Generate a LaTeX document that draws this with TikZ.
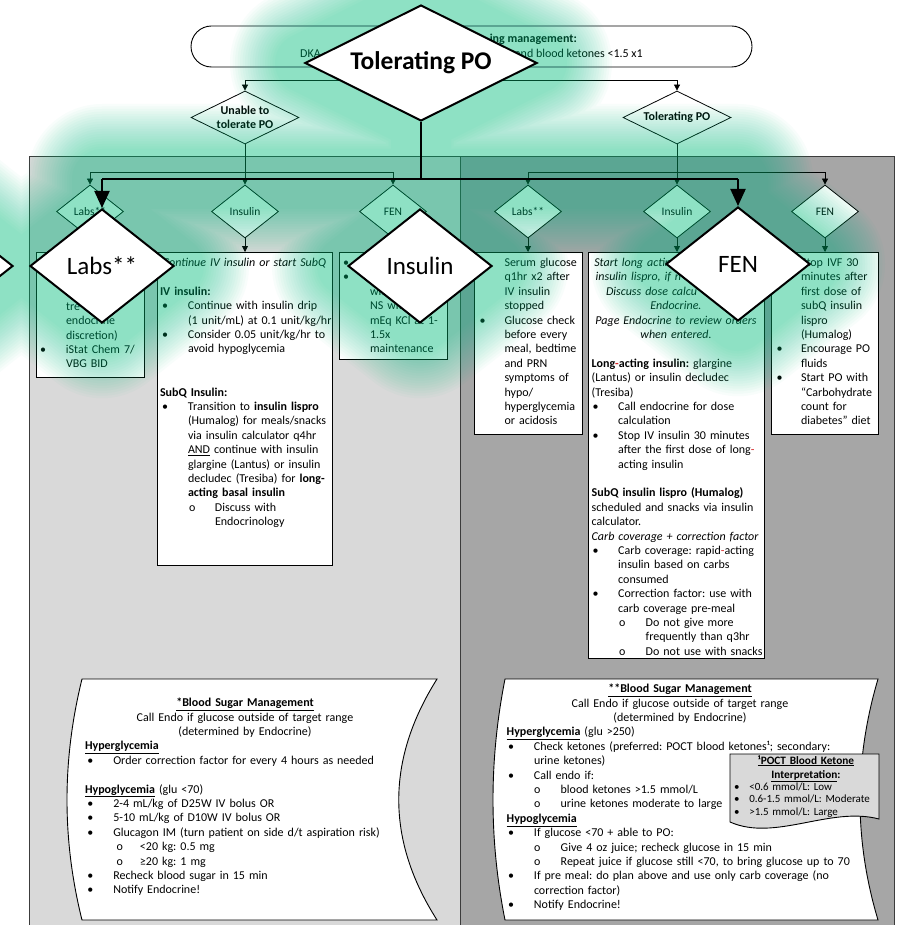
\documentclass[tikz,border=0pt]{standalone}
\usepackage{fontspec}
\setmainfont{Carlito}
\usetikzlibrary{arrows.meta,shapes.geometric}
\definecolor{lpanel}{RGB}{217,217,217}
\definecolor{dpanel}{RGB}{166,166,166}
\definecolor{pborder}{RGB}{60,60,60}
\definecolor{glowc}{RGB}{0,198,130}
\definecolor{hyph}{RGB}{215,40,40}
\newcommand\Bu[2]{\makebox[#2pt][l]{\hspace*{#1pt}\textbullet}}
\newcommand\Ci[2]{\makebox[#2pt][l]{\hspace*{#1pt}o}}
\newcommand\Ii[1]{\hspace*{#1pt}}
\newcommand\rh{\textcolor{hyph}{-}}
\tikzset{
  tx/.style={anchor=base west, inner sep=0pt, outer sep=0pt, text width=#1, align=left, font=\fontsize{12}{14.4}\selectfont},
  tx/.default=420pt,
  tc/.style={anchor=base, inner sep=0pt, outer sep=0pt, text width=#1, align=center, font=\fontsize{12}{14.4}\selectfont},
  boxn/.style={draw=black, fill=white, line width=0.9pt, inner sep=0pt, anchor=north west},
  sdm/.style={diamond, draw=black, fill=white, line width=0.8pt, inner sep=-3pt},
  pdm/.style={sdm, minimum width=67pt, minimum height=53pt, shape aspect=1.26, font=\fontsize{11.5}{13}\selectfont},
  tdm/.style={sdm, minimum width=108pt, minimum height=53pt, shape aspect=2.04, font=\fontsize{12}{14.4}\selectfont\bfseries, align=center},
  bdm/.style={diamond, draw=black, fill=white, line width=2pt, inner sep=0pt, minimum width=144pt, minimum height=114pt, shape aspect=1.26, font=\fontsize{25}{30}\selectfont},
  conn/.style={line width=0.8pt, draw=black},
  arr/.style={conn, -{Triangle[length=6pt,width=6pt]}},
  bigl/.style={line width=2pt, draw=black},
  bigarr/.style={bigl, -{Triangle[length=17pt,width=15pt]}},
}
\begin{document}
\frenchspacing
\begin{tikzpicture}[x=1pt,y=-1pt]
\useasboundingbox (0,0) rectangle (897,925);
\clip (0,0) rectangle (897,925);
\fill[white] (0,0) rectangle (897,925);
% panels
\fill[lpanel] (29,157) rectangle (460,935);
\fill[dpanel] (460,157) rectangle (894,935);
\draw[pborder, line width=1pt] (29,935) -- (29,157) -- (894,157) -- (894,935);
\draw[pborder, line width=1pt] (460,157) -- (460,935);
% top pill
\node[draw=black, fill=white, line width=0.9pt, rounded corners=20.5pt, minimum width=561pt, minimum height=41pt, inner sep=0pt] (pill) at (471.5,46.5) {};
\node[anchor=base west, inner sep=0pt, font=\fontsize{12}{14.4}\selectfont] (p1) at (300,57.5) {DKA};
\node[anchor=base east, inner sep=0pt, font=\fontsize{12}{14.4}\selectfont\bfseries] (p2) at (577,43) {ing management:};
\node[anchor=base east, inner sep=0pt, font=\fontsize{12}{14.4}\selectfont] (p3) at (643,57.5) {and blood ketones <1.5 x1};
% top small diamonds
\node[tdm] (unable) at (245,117.5) {Unable to\\tolerate PO};
\node[tdm] (tolS) at (677,117.5) {Tolerating PO};
\coordinate (jt) at (471.5,80);
\draw[conn] (pill.south) -- (jt);
\draw[arr] (jt) -| (unable.north);
\draw[arr] (jt) -| (tolS.north);
% panel diamonds
\node[pdm] (labsL) at (90,211.5) {Labs**};
\node[pdm] (insL) at (245,211.5) {Insulin};
\node[pdm] (fenL) at (393,211.5) {FEN};
\node[pdm] (labsR) at (528,211.5) {Labs**};
\node[pdm] (insR) at (677,211.5) {Insulin};
\node[pdm] (fenR) at (825,211.5) {FEN};
\coordinate (jl) at (245,172);
\coordinate (jr) at (677,172);
\draw[conn] (unable.south) -- (jl);
\draw[arr] (jl) -| (labsL.north);
\draw[arr] (jl) -- (insL.north);
\draw[arr] (jl) -| (fenL.north);
\draw[conn] (tolS.south) -- (jr);
\draw[arr] (jr) -| (labsR.north);
\draw[arr] (jr) -- (insR.north);
\draw[arr] (jr) -| (fenR.north);
% boxes
\node[boxn, minimum width=108pt, minimum height=125pt] (labsLbox) at (36,252) {};
\node[boxn, minimum width=175pt, minimum height=313pt] (insLbox) at (157,252) {};
\node[boxn, minimum width=108pt, minimum height=107pt] (fenLbox) at (339,252) {};
\node[boxn, minimum width=108pt, minimum height=182pt] (labsRbox) at (474,252) {};
\node[boxn, minimum width=176pt, minimum height=406pt] (insRbox) at (588,252) {};
\node[boxn, minimum width=107pt, minimum height=182pt] (fenRbox) at (771,252) {};
\draw[arr] (labsL.south) -- (labsL.south |- labsLbox.north);
\draw[arr] (insL.south) -- (insL.south |- insLbox.north);
\draw[arr] (fenL.south) -- (fenL.south |- fenLbox.north);
\draw[arr] (labsR.south) -- (labsR.south |- labsRbox.north);
\draw[arr] (insR.south) -- (insR.south |- insRbox.north);
\draw[arr] (fenR.south) -- (fenR.south |- fenRbox.north);
% box texts
\node[tx] (tLabL) at (40,310.2) {\Ii{26}tre\\ \Ii{26}endocrine\\ \Ii{26}discretion)\\ \Bu{0}{26}iStat Chem 7/\\ \Ii{26}VBG BID};
\node[tc=175pt] (tInsL0) at (244.5,266.5) {\itshape Continue IV insulin or start SubQ};
\node[tx] (tInsL) at (160,295.3) {\textbf{IV insulin:}\\
\Bu{2}{28}Continue with insulin drip\\
\Ii{28}(1 unit/mL) at 0.1 unit/kg/hr\\
\Bu{2}{28}Consider 0.05 unit/kg/hr to\\
\Ii{28}avoid hypoglycemia\\[28.8pt]
\textbf{SubQ Insulin:}\\
\Bu{2}{28}Transition to \textbf{insulin lispro}\\
\Ii{28}(Humalog) for meals/snacks\\
\Ii{28}via insulin calculator q4hr\\
\Ii{28}\underline{AND} continue with insulin\\
\Ii{28}glargine (Lantus) or insulin\\
\Ii{28}decludec (Tresiba) for \textbf{long-}\\
\Ii{28}\textbf{acting basal insulin}\\
\Ci{29}{55}Discuss with\\
\Ii{55}Endocrinology};
\node[tx] (tFenL) at (343,266.5) {\Bu{0}{27}\\ \Bu{0}{27}\\ \Ii{27}with\\ \Ii{27}NS with\\ \Ii{27}mEq KCl at 1-\\ \Ii{27}1.5x\\ \Ii{27}maintenance};
\node[tx] (tLabR) at (479.5,266.5) {\Bu{0}{25}Serum glucose\\ \Ii{25}q1hr x2 after\\ \Ii{25}IV insulin\\ \Ii{25}stopped\\ \Bu{0}{25}Glucose check\\ \Ii{25}before every\\ \Ii{25}meal, bedtime\\ \Ii{25}and PRN\\ \Ii{25}symptoms of\\ \Ii{25}hypo/\\ \Ii{25}hyperglycemia\\ \Ii{25}or acidosis};
\node[tx] (tInsR1) at (594.3,266.5) {\itshape Start long acting\\ \Ii{1.4}insulin lispro, if n\\ \Ii{11.7}Discuss dose calcu};
\node[tc=176pt] (tInsR2) at (676,309.7) {\itshape Endocrine.\\ Page Endocrine to review orders\\ when entered.};
\node[tx] (tInsR3) at (591.7,367.3) {\textbf{Long\rh acting insulin:} glargine\\
(Lantus) or insulin decludec\\
(Tresiba)\\
\Bu{1}{26.5}Call endocrine for dose\\
\Ii{26.5}calculation\\
\Bu{1}{26.5}Stop IV insulin 30 minutes\\
\Ii{26.5}after the first dose of long\rh\\
\Ii{26.5}acting insulin\\[14.4pt]
\textbf{SubQ insulin lispro (Humalog)}\\
scheduled and snacks via insulin\\
calculator.\\
\textit{Carb coverage + correction factor}\\
\Bu{1}{26.5}Carb coverage: rapid\rh acting\\
\Ii{26.5}insulin based on carbs\\
\Ii{26.5}consumed\\
\Bu{1}{26.5}Correction factor: use with\\
\Ii{26.5}carb coverage pre-meal\\
\Ci{27.5}{54}Do not give more\\
\Ii{54}frequently than q3hr\\
\Ci{27.5}{54}Do not use with snacks};
\node[tx] (tFenR) at (776.5,266.5) {\Bu{0}{24.5}Stop IVF 30\\ \Ii{24.5}minutes after\\ \Ii{24.5}first dose of\\ \Ii{24.5}subQ insulin\\ \Ii{24.5}lispro\\ \Ii{24.5}(Humalog)\\ \Bu{0}{24.5}Encourage PO\\ \Ii{24.5}fluids\\ \Bu{0}{24.5}Start PO with\\ \Ii{24.5}“Carbohydrate\\ \Ii{24.5}count for\\ \Ii{24.5}diabetes” diet};
% bottom shapes
\draw[fill=white, draw=black, line width=0.9pt] (82,679) -- (437,679) .. controls (386,760) and (386,840) .. (437,920) -- (82,920) .. controls (62,840) and (62,760) .. (82,679) -- cycle;
\draw[fill=white, draw=black, line width=0.9pt] (505,679) -- (878,679) .. controls (854,760) and (854,840) .. (878,920) -- (505,920) .. controls (489,840) and (489,760) .. (505,679) -- cycle;
\node[tc=340pt] (bl0) at (245,706.7) {\textbf{\underline{*Blood Sugar Management}}\\ Call Endo if glucose outside of target range\\ (determined by Endocrine)};
\node[tx] (bl1) at (85,749.9) {\textbf{\underline{Hyperglycemia}}\\
\Bu{2.3}{28.3}Order correction factor for every 4 hours as needed\\[14.4pt]
\textbf{\underline{Hypoglycemia}} (glu <70)\\
\Bu{2.3}{28.3}2-4 mL/kg of D25W IV bolus OR\\
\Bu{2.3}{28.3}5-10 mL/kg of D10W IV bolus OR\\
\Bu{2.3}{28.3}Glucagon IM (turn patient on side d/t aspiration risk)\\
\Ci{31.7}{55}<20 kg: 0.5 mg\\
\Ci{31.7}{55}≥20 kg: 1 mg\\
\Bu{2.3}{28.3}Recheck blood sugar in 15 min\\
\Bu{2.3}{28.3}Notify Endocrine!};
\node[tc=360pt] (br0) at (680,692.7) {\textbf{\underline{**Blood Sugar Management}}\\ Call Endo if glucose outside of target range\\ (determined by Endocrine)};
\node[tx] (br1) at (506.7,735.9) {\textbf{\underline{Hyperglycemia}} (glu >250)\\
\Bu{1.5}{27.3}Check ketones (preferred: POCT blood ketones¹; secondary:\\
\Ii{27.3}urine ketones)\\
\Bu{1.5}{27.3}Call endo if:\\
\Ci{27.3}{54}blood ketones >1.5 mmol/L\\
\Ci{27.3}{54}urine ketones moderate to large\\
\textbf{\underline{Hypoglycemia}}\\
\Bu{1.5}{27.3}If glucose <70 + able to PO:\\
\Ci{27.3}{54}Give 4 oz juice; recheck glucose in 15 min\\
\Ci{27.3}{54}Repeat juice if glucose still <70, to bring glucose up to 70\\
\Bu{1.5}{27.3}If pre meal: do plan above and use only carb coverage (no\\
\Ii{27.3}correction factor)\\
\Bu{1.5}{27.3}Notify Endocrine!};
\draw[fill=lpanel, draw=black, line width=0.9pt] (730,754) -- (879,754) -- (879,819) .. controls (830,806) and (775,842) .. (730,822) -- cycle;
\node[tc=150pt, font=\fontsize{11.3}{14.3}\selectfont\bfseries] (pt0) at (806,764) {\underline{¹POCT Blood Ketone}\\ \underline{Interpretation}:};
\node[tx, font=\fontsize{11}{12.5}\selectfont] (pt1) at (734,790) {\Bu{0}{15.3}<0.6 mmol/L: Low\\ \Bu{0}{15.3}0.6-1.5 mmol/L: Moderate\\ \Bu{0}{15.3}>1.5 mmol/L: Large};
% glow
\foreach \w in {150,145,...,60}{
  \draw[glowc, opacity=0.028, line width=\w pt, line join=round, line cap=round]
   (305,63)--(421,5)--(537,63)--(421,121)--cycle
   (30,266)--(102,209)--(174,266)--(102,323)--cycle
   (347,266)--(420,209)--(493,266)--(420,323)--cycle
   (666,264)--(738,207)--(810,264)--(738,321)--cycle
   (-131,266)--(-59,209)--(13,266)--(-59,323)--cycle
   (421,121)--(421,179) (102,179)--(738,179) (102,179)--(102,209) (738,179)--(738,207);
}
% big diamonds
\node[bdm, minimum width=232pt, minimum height=116pt, shape aspect=2, font=\fontsize{25.5}{30}\selectfont\bfseries] (Tbig) at (421,63) {Tolerating PO};
\node[bdm] (Lbig) at (102,266) {Labs**};
\node[bdm] (Ibig) at (420,266) {Insulin};
\node[bdm] (Fbig) at (738,264) {FEN};
\node[bdm] (Xbig) at (-59,266) {};
\coordinate (h0) at (421,179);
\coordinate (hL) at (102,179);
\coordinate (hR) at (738,179);
\draw[bigl] (Tbig.south) -- (h0);
\draw[bigl] (hL) -- (hR);
\draw[bigarr] (hL) -- (Lbig.north);
\draw[bigarr] (hR) -- (Fbig.north);
\end{tikzpicture}
\end{document}
